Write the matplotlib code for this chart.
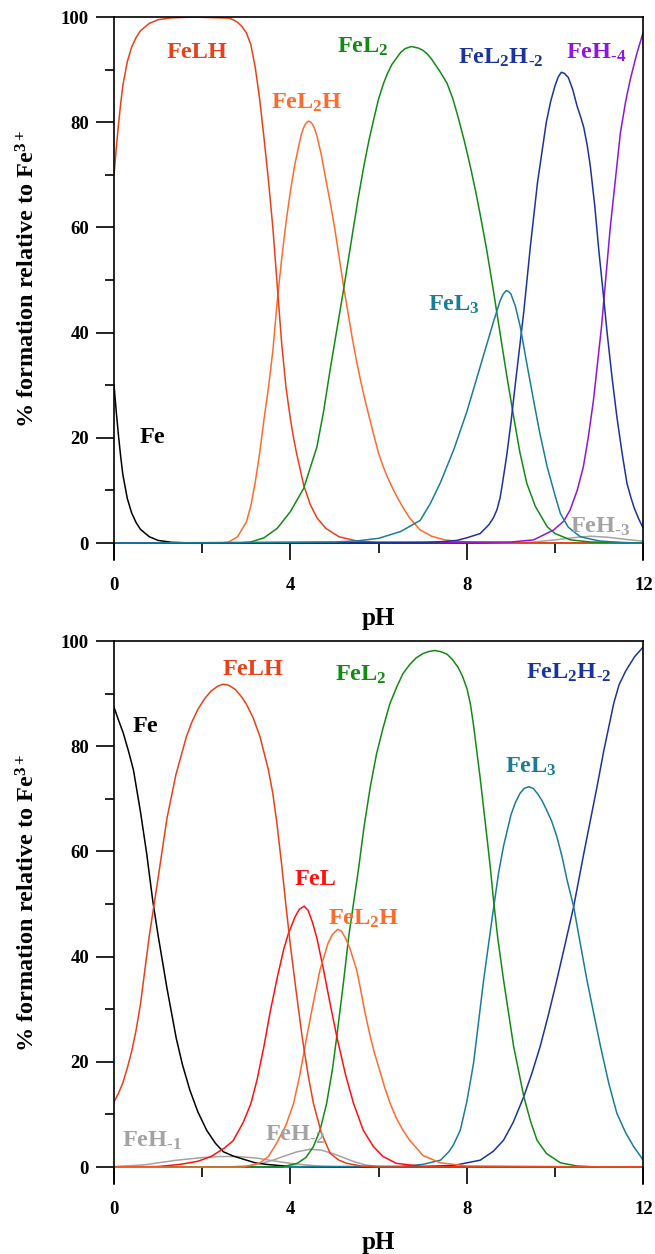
import matplotlib
matplotlib.use('Agg')
import matplotlib.pyplot as plt
from matplotlib.ticker import MultipleLocator

plt.rcParams['font.family'] = ['Liberation Serif', 'DejaVu Serif']
plt.rcParams['font.weight'] = 'bold'
plt.rcParams['mathtext.fontset'] = 'custom'
plt.rcParams['mathtext.rm'] = 'Liberation Serif:bold'
plt.rcParams['mathtext.it'] = 'Liberation Serif:bold'
plt.rcParams['mathtext.bf'] = 'Liberation Serif:bold'
plt.rcParams['mathtext.default'] = 'rm'

# ---- upper panel: species distribution (% relative to Fe3+) vs pH ----
t_fe_ph = [0, 0.05, 0.1, 0.15, 0.2, 0.3, 0.4, 0.5, 0.6, 0.8, 1.0, 1.3, 1.8, 12]
t_fe = [30, 25, 20.5, 16.5, 13, 8.5, 5.7, 3.9, 2.6, 1.2, 0.5, 0.15, 0, 0]

t_felh_ph = [0, 0.05, 0.1, 0.15, 0.2, 0.3, 0.4, 0.5, 0.6, 0.8, 1.0, 1.3, 1.8, 2.6, 2.7,
             2.8, 2.9, 3.0, 3.1, 3.2, 3.3, 3.4, 3.5, 3.6, 3.7, 3.8, 3.9, 4.0, 4.07, 4.14,
             4.3, 4.45, 4.6, 4.8, 5.1, 5.5, 6.0, 12]
t_felh = [70, 75, 79.5, 83.5, 87, 91.5, 94.3, 96.1, 97.4, 98.8, 99.5, 99.85, 100, 99.8, 99.5,
          99, 98.2, 97, 94.8, 90.5, 84.5, 77, 69, 60, 49, 38, 29.5, 23.5, 20, 17,
          11, 7.3, 4.8, 2.8, 1.2, 0.4, 0.1, 0]

t_fel2h_ph = [0, 2.4, 2.6, 2.8, 3.0, 3.1, 3.2, 3.3, 3.4, 3.5, 3.6, 3.7, 3.8, 3.9, 4.0,
              4.1, 4.2, 4.25, 4.3, 4.35, 4.4, 4.45, 4.5, 4.55, 4.6, 4.7, 4.8, 4.9, 5.0,
              5.1, 5.2, 5.3, 5.4, 5.5, 5.6, 5.7, 5.8, 5.9, 6.0, 6.1, 6.2, 6.35, 6.5, 6.6,
              6.7, 6.94, 7.2, 7.5, 8.0, 9.0, 12]
t_fel2h = [0, 0, 0.2, 1.2, 4, 7, 11.5, 17, 23.5, 29.5, 36.5, 46, 54, 61, 67,
           72, 76, 77.8, 79, 79.8, 80.2, 80.1, 79.6, 78.7, 77.4, 73.8, 69.2, 64.8, 60,
           54.5, 49, 44, 39, 34.5, 30.5, 26.8, 23.5, 20.2, 17, 14.6, 12.5, 9.8, 7.5, 6.1,
           4.8, 2.5, 1.3, 0.6, 0.2, 0, 0]

t_fel2_ph = [0, 2.8, 3.1, 3.4, 3.7, 4.0, 4.3, 4.6, 4.75, 4.9, 5.05, 5.2, 5.4, 5.53, 5.66,
             5.78, 5.9, 6.0, 6.11, 6.2, 6.3, 6.5, 6.6, 6.74, 6.9, 7.0, 7.1, 7.2, 7.4, 7.55,
             7.68, 7.8, 7.94, 8.08, 8.2, 8.3, 8.45, 8.6, 8.75, 8.9, 9.06, 9.2, 9.36, 9.55,
             9.82, 10.0, 10.35, 10.8, 12]
t_fel2 = [0, 0, 0.2, 1, 2.8, 6, 10.4, 18.3, 25, 33, 40.5, 48, 58.5, 65.3, 71.5,
          76.6, 81, 84.5, 87.4, 89.3, 91, 93.3, 94, 94.4, 94.1, 93.7, 93, 92, 89.5, 87.4,
          84.5, 81, 76.5, 71.5, 66.8, 62.5, 55.7, 48, 40, 32, 24, 17.3, 11.3, 7,
          3.1, 1.8, 0.6, 0.2, 0]

t_fel3_ph = [0, 5.0, 5.5, 6.0, 6.5, 6.94, 7.17, 7.4, 7.7, 8.0, 8.3, 8.6, 8.75, 8.82,
             8.89, 8.95, 9.0, 9.1, 9.21, 9.35, 9.51, 9.65, 9.82, 10.0, 10.12, 10.3,
             10.57, 11.0, 11.5, 12]
t_fel3 = [0, 0.2, 0.4, 0.9, 2.2, 4.3, 7.5, 11.5, 17.7, 25, 33.5, 42, 46, 47.3,
          48, 47.8, 47.3, 45, 41.1, 34.5, 27.2, 21, 14.5, 9, 5.6, 3,
          1.2, 0.4, 0.1, 0]

t_fel2hm2_ph = [0, 7.0, 7.5, 7.77, 8.0, 8.3, 8.5, 8.6, 8.68, 8.75, 8.8, 8.9, 9.0, 9.1,
                9.29, 9.44, 9.6, 9.8, 9.9, 10.0, 10.07, 10.14, 10.21, 10.3, 10.4, 10.5,
                10.58, 10.65, 10.73, 10.8, 10.9, 10.99, 11.09, 11.18, 11.29, 11.4, 11.52,
                11.63, 11.72, 11.8, 11.9, 12]
t_fel2hm2 = [0, 0.1, 0.3, 0.5, 1.0, 1.8, 3.5, 4.8, 6.3, 8.5, 11, 16.5, 23, 30.4,
             44, 56.5, 68.5, 80, 84, 87, 88.6, 89.5, 89.3, 88.5, 86.2, 83,
             81, 79, 75.5, 71.5, 64, 55.7, 47.5, 39.9, 31.5, 24, 17,
             11.3, 8.6, 6.5, 4.5, 2.8]

t_feh4_ph = [0, 9.0, 9.51, 9.97, 10.2, 10.34, 10.5, 10.64, 10.75, 10.87, 11.05, 11.25,
             11.48, 11.6, 11.7, 11.85, 12]
t_feh4 = [0, 0.2, 0.6, 2.5, 4.2, 6.3, 10, 14.5, 20, 27.2, 41, 60,
          78, 84, 88, 93, 97.2]

t_feh3_ph = [0, 9.0, 9.5, 10.0, 10.5, 10.8, 11.2, 11.6, 12]
t_feh3 = [0, 0, 0.2, 0.6, 1.1, 1.3, 1.1, 0.7, 0.35]

# ---- lower panel ----
b_fe_ph = [0, 0.1, 0.21, 0.33, 0.44, 0.6, 0.74, 0.88, 1.0, 1.2, 1.41, 1.55, 1.72, 1.9,
           2.1, 2.3, 2.48, 2.7, 2.93, 3.2, 3.46, 4.0, 4.5, 12]
b_fe = [87.4, 85, 82.5, 79, 75.5, 67.5, 59.6, 50.5, 44, 34, 24.5, 19.5, 14.6, 10.5,
        7, 4.5, 2.9, 2.1, 1.5, 0.8, 0.5, 0.1, 0, 0]

b_felh_ph = [0, 0.1, 0.2, 0.3, 0.4, 0.5, 0.6, 0.8, 1.0, 1.2, 1.4, 1.64, 1.77, 1.9, 2.05,
             2.2, 2.35, 2.47, 2.6, 2.75, 2.9, 3.0, 3.15, 3.31, 3.5, 3.6, 3.69, 3.8, 3.9,
             4.0, 4.12, 4.26, 4.4, 4.52, 4.7, 4.9, 5.1, 5.28, 5.6, 6.0, 12]
b_felh = [12.4, 14, 16, 18.8, 22, 26, 31, 44, 55, 66.3, 74.5, 81.8, 84.7, 87, 89,
          90.5, 91.4, 91.8, 91.6, 90.8, 89.3, 88, 85.5, 81.8, 75.5, 71, 65.5, 57.5, 49.5,
          42, 34, 25, 17.5, 12.1, 6.5, 2.6, 1.3, 0.7, 0.2, 0, 0]

b_fel_ph = [0, 1.0, 1.5, 1.9, 2.2, 2.5, 2.7, 2.93, 3.1, 3.24, 3.4, 3.54, 3.7, 3.85,
            3.95, 4.1, 4.2, 4.31, 4.4, 4.5, 4.6, 4.75, 4.9, 5.05, 5.25, 5.43, 5.65, 5.88,
            6.1, 6.4, 7.0, 12]
b_fel = [0, 0.1, 0.5, 1.1, 2, 3.6, 5, 8.5, 12, 16.5, 23, 29.5, 36, 41.5,
         44.3, 47.5, 49, 49.6, 48.8, 46.5, 43.5, 37.5, 31, 24.8, 17.5, 12.1, 7, 3.9,
         2, 0.7, 0.1, 0]

b_fel2h_ph = [0, 2.9, 3.1, 3.31, 3.5, 3.69, 3.9, 4.07, 4.2, 4.37, 4.5, 4.67, 4.85, 4.95,
              5.07, 5.15, 5.25, 5.35, 5.5, 5.58, 5.65, 5.73, 5.81, 5.9, 6.0, 6.13, 6.26,
              6.4, 6.55, 6.7, 6.87, 7.0, 7.4, 8.0, 12]
b_fel2h = [0, 0, 0.3, 0.8, 2, 4.6, 8, 12.1, 17, 24.8, 30.5, 37.5, 42.5, 44.2,
           45.2, 44.9, 43.5, 41.5, 37.5, 34.2, 31, 27.8, 24.8, 21.8, 19, 15.3, 12.1,
           9.3, 7, 5.1, 3.5, 2.2, 0.8, 0.2, 0]

b_fel2_ph = [0, 3.8, 4.15, 4.35, 4.52, 4.67, 4.82, 4.95, 5.05, 5.2, 5.32, 5.54, 5.67,
             5.81, 5.95, 6.1, 6.25, 6.41, 6.55, 6.7, 6.85, 7.0, 7.13, 7.27, 7.4, 7.55,
             7.67, 7.8, 7.9, 8.0, 8.08, 8.15, 8.3, 8.45, 8.53, 8.6, 8.7, 8.83, 9.06, 9.29,
             9.45, 9.59, 9.8, 10.12, 10.5, 11.0, 12]
b_fel2 = [0, 0, 0.7, 1.8, 3.9, 7, 12.1, 18.5, 24.8, 35, 43.8, 56.5, 64.8,
          72.3, 78.5, 83.5, 88, 91.3, 93.8, 95.5, 96.8, 97.6, 98, 98.2, 98, 97.5,
          96.5, 95, 93.3, 91, 88, 84, 74, 63, 57, 51, 43.5, 35.6, 22.9, 13.4,
          8.5, 5.1, 2.6, 0.8, 0.2, 0, 0]

b_fel3_ph = [0, 6.5, 7.0, 7.4, 7.6, 7.7, 7.85, 8.0, 8.15, 8.38, 8.6, 8.72, 8.83, 9.0,
             9.1, 9.2, 9.3, 9.4, 9.5, 9.6, 9.7, 9.8, 9.92, 10.04, 10.16, 10.27, 10.42,
             10.57, 10.72, 10.88, 11.03, 11.22, 11.4, 11.6, 11.78, 12]
b_fel3 = [0, 0.1, 0.5, 1.3, 3, 4.3, 7, 12.5, 19.7, 35.6, 49, 56, 61, 67,
          69.3, 71, 72, 72.3, 72, 71, 69.7, 68, 65.8, 62.8, 58.9, 54.6, 49.5,
          42.5, 35.6, 29, 22.9, 15.8, 10.2, 6.5, 3.9, 1.3]

b_fel2hm2_ph = [0, 7.0, 7.7, 8.3, 8.6, 8.83, 9.05, 9.29, 9.48, 9.66, 9.85, 10.04, 10.23,
                10.42, 10.65, 10.95, 11.1, 11.33, 11.45, 11.6, 11.8, 12]
b_fel2hm2 = [0, 0.1, 0.3, 1.3, 3, 5.1, 8.5, 13.4, 18, 22.9, 29, 35.6, 42.5,
             49.5, 59.6, 72.3, 79, 88.2, 91.7, 94.3, 97, 98.9]

b_feh1_ph = [0, 0.67, 1.0, 1.42, 2.0, 2.4, 2.8, 3.24, 3.6, 4.0, 4.6, 5.2, 12]
b_feh1 = [0.1, 0.4, 0.8, 1.3, 1.8, 2.0, 2.0, 1.7, 1.2, 0.7, 0.2, 0, 0]

b_feh2_ph = [0, 2.5, 3.0, 3.3, 3.6, 3.9, 4.15, 4.45, 4.7, 4.95, 5.2, 5.45, 5.7, 6.0, 6.5, 12]
b_feh2 = [0, 0, 0.2, 0.6, 1.3, 2.2, 2.9, 3.4, 3.2, 2.6, 1.8, 1.0, 0.4, 0.1, 0, 0]

x_ticks = [0, 4, 8, 12]
y_ticks = [0, 20, 40, 60, 80, 100]

C_FE = 'black'
C_FELH = '#e8401a'
C_FEL2H = '#ff6b2d'
C_FEL = '#ff1010'
C_FEL2 = '#138a13'
C_FEL3 = '#1a7d98'
C_FEL2HM2 = '#1a349c'
C_FEH4 = '#8c16dc'
C_GREY = '#a3a3a3'

upper_curves = [
    (t_feh3_ph, t_feh3, C_GREY),
    (t_fe_ph, t_fe, C_FE),
    (t_fel2h_ph, t_fel2h, C_FEL2H),
    (t_felh_ph, t_felh, C_FELH),
    (t_fel2_ph, t_fel2, C_FEL2),
    (t_feh4_ph, t_feh4, C_FEH4),
    (t_fel2hm2_ph, t_fel2hm2, C_FEL2HM2),
    (t_fel3_ph, t_fel3, C_FEL3),
]
upper_labels = [
    ('Fe', 0.87, 19.0, C_FE),
    ('FeLH', 1.88, 92.3, C_FELH),
    ('FeL$_2$H', 4.38, 82.6, C_FEL2H),
    ('FeL$_2$', 5.64, 93.2, C_FEL2),
    ('FeL$_3$', 7.7, 44.2, C_FEL3),
    (r'FeL$_2$H$_{\text{-}2}$', 8.77, 91.2, C_FEL2HM2),
    (r'FeH$_{\text{-}4}$', 10.93, 92.1, C_FEH4),
    (r'FeH$_{\text{-}3}$', 11.02, 2.0, C_GREY),
]

lower_curves = [
    (b_feh1_ph, b_feh1, C_GREY),
    (b_feh2_ph, b_feh2, C_GREY),
    (b_fe_ph, b_fe, C_FE),
    (b_fel2hm2_ph, b_fel2hm2, C_FEL2HM2),
    (b_fel3_ph, b_fel3, C_FEL3),
    (b_fel2_ph, b_fel2, C_FEL2),
    (b_fel_ph, b_fel, C_FEL),
    (b_fel2h_ph, b_fel2h, C_FEL2H),
    (b_felh_ph, b_felh, C_FELH),
]
lower_labels = [
    ('Fe', 0.70, 82.8, C_FE),
    ('FeLH', 3.16, 93.5, C_FELH),
    ('FeL', 4.56, 53.6, C_FEL),
    ('FeL$_2$H', 5.66, 46.0, C_FEL2H),
    ('FeL$_2$', 5.6, 92.5, C_FEL2),
    ('FeL$_3$', 9.46, 75.0, C_FEL3),
    (r'FeL$_2$H$_{\text{-}2}$', 10.31, 92.9, C_FEL2HM2),
    (r'FeH$_{\text{-}1}$', 0.87, 3.9, C_GREY),
    (r'FeH$_{\text{-}2}$', 4.11, 5.0, C_GREY),
]


def draw_panel(ax, curves, labels):
    for ph, vals, color in curves:
        ax.plot(ph, vals, color=color, linewidth=1.1, solid_joinstyle='round')
    for text, x, y, color in labels:
        ax.text(x, y, text, color=color, fontsize=17.5, fontweight='bold',
                ha='center', va='baseline')
    ax.set_xlim(0, 12)
    ax.set_ylim(-3.3, 100)
    ax.spines['bottom'].set_position(('data', 0))
    ax.spines['bottom'].set_visible(False)
    for s in ['left', 'top', 'right']:
        ax.spines[s].set_linewidth(1.2)
    ax.set_xticks(x_ticks)
    ax.set_yticks(y_ticks)
    ax.xaxis.set_minor_locator(MultipleLocator(2))
    ax.yaxis.set_minor_locator(MultipleLocator(10))
    ax.tick_params(axis='x', which='major', direction='out', length=12.5, width=1.2,
                   pad=12, labelsize=13.5)
    ax.tick_params(axis='x', which='minor', direction='out', length=7, width=1.2)
    ax.tick_params(axis='y', which='major', direction='out', length=13, width=1.2,
                   pad=5, labelsize=13.5)
    ax.tick_params(axis='y', which='minor', direction='out', length=6.5, width=1.2)
    ax.set_xlabel('pH', fontsize=18, fontweight='bold', labelpad=9)
    ax.set_ylabel('% formation relative to Fe$^{3+}$', fontsize=17.5, fontweight='bold')
    ax.yaxis.set_label_coords(-0.14, 0.518)


fig = plt.figure(figsize=(6.55, 12.54), dpi=100)
ax1 = fig.add_axes([0.1741, 0.5531, 0.8081, 0.4333])
ax2 = fig.add_axes([0.1741, 0.0555, 0.8081, 0.4333])
draw_panel(ax1, upper_curves, upper_labels)
draw_panel(ax2, lower_curves, lower_labels)

fig.savefig('out.png', dpi=100)
